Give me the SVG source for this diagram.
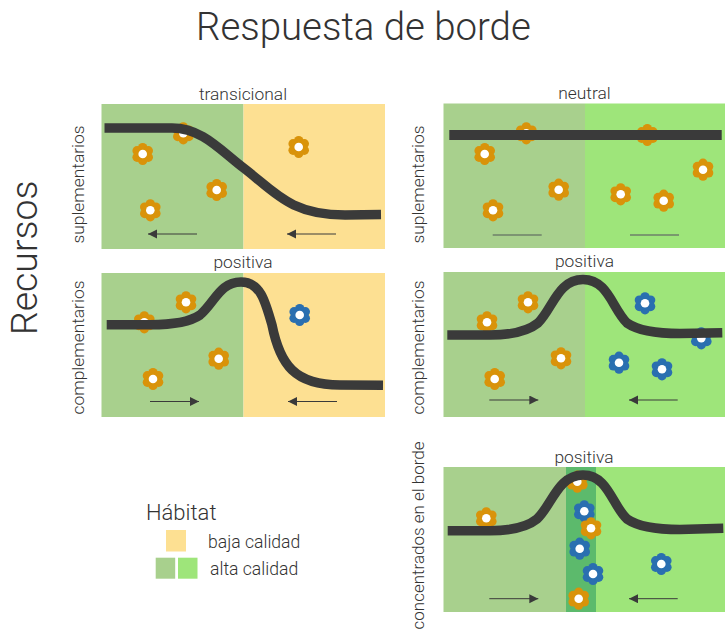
<svg xmlns="http://www.w3.org/2000/svg" width="725" height="630" viewBox="0 0 725 630">
<style>
text{font-family:Roboto,"Liberation Sans",sans-serif;font-weight:300;fill:#333}
.l{font-size:17.4px;text-anchor:middle;fill:#333}
.s{font-size:17.6px;text-anchor:start;fill:#333}
.g1{fill:#a8d08d}.g2{fill:#9ee57a}.y{fill:#fde092}.b{fill:#5cba6c}
.c{fill:none;stroke:#3a3a3a;stroke-width:9.5}
.a{fill:none;stroke:#3a3a3a;stroke-width:1;marker-end:url(#ah)}
.n{fill:none;stroke:#6d8069;stroke-width:1.3}
.o{color:#d9930a}.u{color:#2a6fb0}
</style>
<defs>
<marker id="ah" markerUnits="userSpaceOnUse" markerWidth="10" markerHeight="10" refX="9" refY="4.5" orient="auto"><path d="M0 0L9 4.5L0 9Z" fill="#3a3a3a"/></marker>
<g id="f">
<g fill="currentColor"><circle cx="0" cy="-6.4" r="4.7"/><circle cx="5.6" cy="-3.2" r="4.7"/><circle cx="5.6" cy="3.2" r="4.7"/><circle cx="0" cy="6.4" r="4.7"/><circle cx="-5.6" cy="3.2" r="4.7"/><circle cx="-5.6" cy="-3.2" r="4.7"/><circle r="5"/></g>
<circle r="4.3" fill="#fff"/>
</g>
</defs>
<rect width="725" height="630" fill="#fff"/>
<text id="title" x="196" y="40" font-size="38.4">Respuesta de borde</text>
<text id="yaxis" transform="translate(36.5 335) rotate(-90)" font-size="37.4">Recursos</text>
<g id="panel-transicional">
<rect class="g1" x="101.5" y="104" width="142" height="145"/><rect class="y" x="243.5" y="104" width="141.5" height="145"/>
<use href="#f" class="o" x="142.7" y="154"/><use href="#f" class="o" x="183.3" y="133.3"/><use href="#f" class="o" x="216.7" y="190"/><use href="#f" class="o" x="150.3" y="210.3"/><use href="#f" class="o" x="298.7" y="147"/>
<text class="l" x="243" y="100">transicional</text>
<text class="l" transform="translate(84 184.5) rotate(-90)">suplementarios</text>
</g>
<g id="panel-positiva-1">
<rect class="g1" x="101.5" y="273" width="142" height="144"/><rect class="y" x="243.5" y="273" width="141.5" height="144"/>
<use href="#f" class="o" x="186" y="302.3"/><use href="#f" class="o" x="144.3" y="322.3"/><use href="#f" class="o" x="218.7" y="358.7"/><use href="#f" class="o" x="153" y="379"/><use href="#f" class="u" x="299.7" y="315"/>
<text class="l" x="243" y="268">positiva</text>
<text class="l" transform="translate(84 347.5) rotate(-90)">complementarios</text>
</g>
<g id="panel-neutral">
<rect class="g1" x="443.5" y="103.5" width="141.5" height="144.5"/><rect class="g2" x="585" y="103.5" width="140" height="144.5"/>
<use href="#f" class="o" x="484.7" y="154"/><use href="#f" class="o" x="526.3" y="133.3"/><use href="#f" class="o" x="558.7" y="189.7"/><use href="#f" class="o" x="493" y="210.3"/><use href="#f" class="o" x="647.3" y="135"/><use href="#f" class="o" x="620.7" y="194.3"/><use href="#f" class="o" x="663.7" y="200.7"/><use href="#f" class="o" x="703" y="169.7"/>
<text class="l" x="584.5" y="99">neutral</text>
<text class="l" transform="translate(424 184.5) rotate(-90)">suplementarios</text>
</g>
<g id="panel-positiva-2">
<rect class="g1" x="443.5" y="272" width="141.5" height="145"/><rect class="g2" x="585" y="272" width="140" height="145"/>
<use href="#f" class="o" x="487" y="322.3"/><use href="#f" class="o" x="528" y="302.3"/><use href="#f" class="o" x="561" y="358.3"/><use href="#f" class="o" x="494.7" y="379"/><use href="#f" class="u" x="645" y="303.3"/><use href="#f" class="u" x="619" y="362.7"/><use href="#f" class="u" x="662" y="369.3"/><use href="#f" class="u" x="701.3" y="338.3"/>
<text class="l" x="584.5" y="267">positiva</text>
<text class="l" transform="translate(424 347.5) rotate(-90)">complementarios</text>
</g>
<g id="panel-positiva-3">
<rect class="g1" x="443.5" y="467" width="122.5" height="145"/><rect class="b" x="566" y="467" width="30" height="145"/><rect class="g2" x="596" y="467" width="129" height="145"/>
<use href="#f" class="o" x="486.3" y="518.3"/><use href="#f" class="o" x="577.3" y="481.7"/><use href="#f" class="u" x="584.3" y="511.3"/><use href="#f" class="o" x="591" y="528.3"/><use href="#f" class="u" x="579.7" y="548.7"/><use href="#f" class="u" x="593" y="574"/><use href="#f" class="o" x="578.7" y="598.7"/><use href="#f" class="u" x="661.3" y="564"/>
<text class="l" x="584" y="463">positiva</text>
<text class="l" transform="translate(424 629.5) rotate(-90)" style="text-anchor:start;font-size:17px">concentrados en el borde</text>
</g>
<g id="legend">
<text x="146" y="520" font-size="22">Hábitat</text>
<rect class="y" x="166" y="530" width="20" height="21.5"/>
<rect class="g1" x="155.7" y="557.7" width="19.5" height="21"/><rect class="g2" x="178" y="557.7" width="19.5" height="21"/>
<text class="s" x="208" y="548">baja calidad</text>
<text class="s" x="210" y="575">alta calidad</text>
</g>
<g id="connectors">
<path class="c" d="M104.5 128L172 128C202 128 220 150 243.7 168C275 192 290 215 345 215L381 214.5"/>
<path class="c" d="M106.7 324.7L150 324.7C175 324.7 190 322 200 315C215 302 220 282 241 282C260 282 265 300 272 325C280 365 295 385 340 385L383 385.3"/>
<rect x="449.3" y="130" width="272.4" height="10" fill="#3a3a3a"/>
<path class="c" d="M447.3 335L490 335C510 335 528 331 538 323C553 308 558 279.5 583 279.5C608 279.5 612 308 627 323C640 332 660 333.5 680 333.5L722.3 332.7"/>
<path class="c" d="M447.7 530.7L490 530.7C510 530.7 527 527 537 519C552 505 558 475 583 475C608 475 612 505 627 519C640 528 660 529.5 680 529.5L723.3 528.3"/>
<path class="a" d="M197 234L148 234"/><path class="a" d="M336 234L287 234"/>
<path class="a" d="M150 401.5L199 401.5"/><path class="a" d="M337 401.5L288 401.5"/>
<path class="n" d="M492.7 235L541.7 235M630 235L679 235"/>
<path class="a" d="M489.3 400L538.3 400"/><path class="a" d="M677.7 400L629 400"/>
<path class="a" d="M489.3 598.7L538.3 598.7"/><path class="a" d="M677.7 598.7L629 598.7"/>
</g>
</svg>
